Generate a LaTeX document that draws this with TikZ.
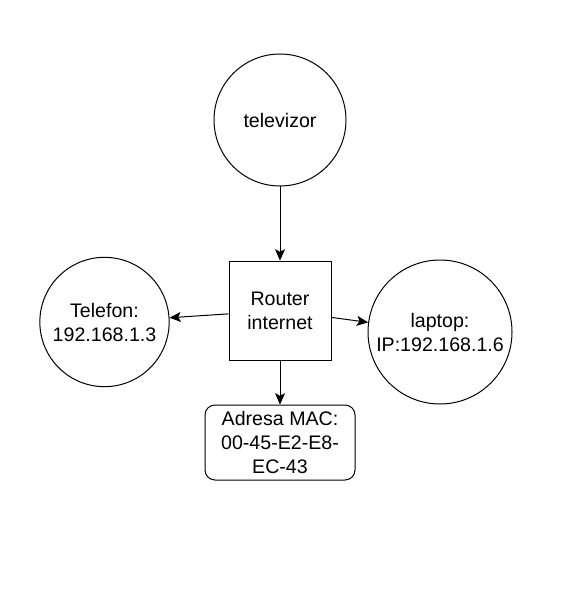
\documentclass[tikz,border=0pt]{standalone}
\usepackage{fontspec}
\setmainfont{Liberation Sans}
\usetikzlibrary{arrows.meta}

\tikzset{
  device/.style={draw, circle, line width=0.75pt, inner sep=0pt, align=center},
  routerbox/.style={draw, rectangle, line width=0.75pt, inner sep=0pt, align=center,
    minimum width=76.5pt, minimum height=74.25pt},
  macbox/.style={draw, rectangle, rounded corners=7.5pt, line width=0.75pt, inner sep=0pt,
    align=center, minimum width=112.5pt, minimum height=56.25pt},
  link/.style={line width=0.75pt, -{Stealth[length=8.5pt,width=7.5pt,inset=2pt]}}
}

\begin{document}
\begin{tikzpicture}[x=0.75pt, y=-0.75pt, font=\fontsize{14.7}{18}\selectfont]

\useasboundingbox (0,0) rectangle (583,595);

\node[device, minimum size=99pt] (tv) at (280,120) {televizor};
\node[routerbox] (router) at (280,310.5) {Router\\internet};
\node[device, minimum size=97pt] (phone) at (104.5,322) {Telefon:\\192.168.1.3};
\node[device, minimum size=108pt] (laptop) at (440,332) {laptop:\\IP:192.168.1.6};
\node[macbox] (mac) at (280,442.5) {Adresa MAC:\\00-45-E2-E8-\\EC-43};

\draw[link] (tv) -- (router);
\draw[link] (router) -- (phone);
\draw[link] (router) -- (laptop);
\draw[link] (router) -- (mac);

\end{tikzpicture}
\end{document}
